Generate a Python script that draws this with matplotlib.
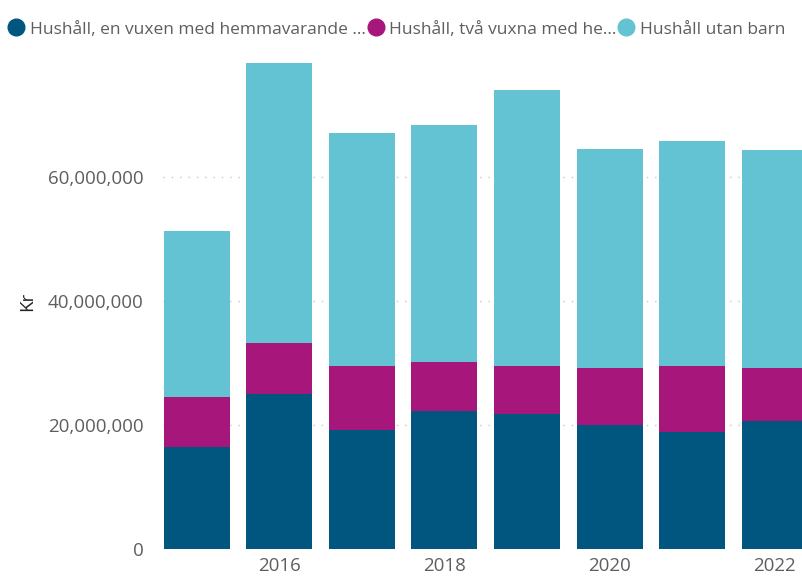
import matplotlib.pyplot as plt
from matplotlib.lines import Line2D
from matplotlib.ticker import FuncFormatter

plt.rcParams['font.family'] = ['Open Sans', 'DejaVu Sans']

# Data
years = [2015, 2016, 2017, 2018, 2019, 2020, 2021, 2022]
en_vuxen = [16.5e6, 25.0e6, 19.2e6, 22.3e6, 21.8e6, 20.0e6, 18.9e6, 20.6e6]
tva_vuxna = [8.0e6, 8.2e6, 10.3e6, 7.9e6, 7.7e6, 9.2e6, 10.6e6, 8.6e6]
utan_barn = [26.8e6, 45.2e6, 37.6e6, 38.3e6, 44.5e6, 35.3e6, 36.3e6, 35.2e6]
labels = ["Hushåll, en vuxen med hemmavarande ...",
          "Hushåll, två vuxna med he...",
          "Hushåll utan barn"]
colors = ["#01567F", "#A6167B", "#64C3D2"]
text_color = "#605E5C"

fig = plt.figure(figsize=(8.02, 5.79), dpi=100)
ax = fig.add_axes([0.203, 0.052, 0.797, 0.856])

bottom2 = [a + b for a, b in zip(en_vuxen, tva_vuxna)]
ax.bar(years, en_vuxen, width=0.8, color=colors[0], zorder=2)
ax.bar(years, tva_vuxna, width=0.8, bottom=en_vuxen, color=colors[1], zorder=2)
ax.bar(years, utan_barn, width=0.8, bottom=bottom2, color=colors[2], zorder=2)

ax.set_xlim(2014.59, 2022.33)
ax.set_ylim(0, 80e6)
ax.set_yticks([0, 20e6, 40e6, 60e6])
ax.yaxis.set_major_formatter(FuncFormatter(lambda v, p: f"{v:,.0f}"))
ax.set_xticks([2016, 2018, 2020, 2022])
ax.grid(axis='y', linestyle=(0, (1, 5)), color='#C8C8C8', linewidth=1, zorder=0)
for s in ax.spines.values():
    s.set_visible(False)
ax.tick_params(axis='y', length=0, labelsize=13.5, colors=text_color, pad=14)
ax.tick_params(axis='x', length=0, labelsize=13.5, colors=text_color, pad=6)
ax.set_ylabel("Kr", fontsize=13.5, color="#252423", labelpad=8)

handles = [Line2D([], [], marker='o', linestyle='', markersize=12, color=c) for c in colors]
fig.legend(handles, labels, loc='upper left', bbox_to_anchor=(-0.01, 0.99),
           ncol=3, frameon=False, fontsize=12.5, handletextpad=0.3,
           columnspacing=0.05, handlelength=1.0, labelcolor=text_color)

fig.savefig('out.png', dpi=100)
